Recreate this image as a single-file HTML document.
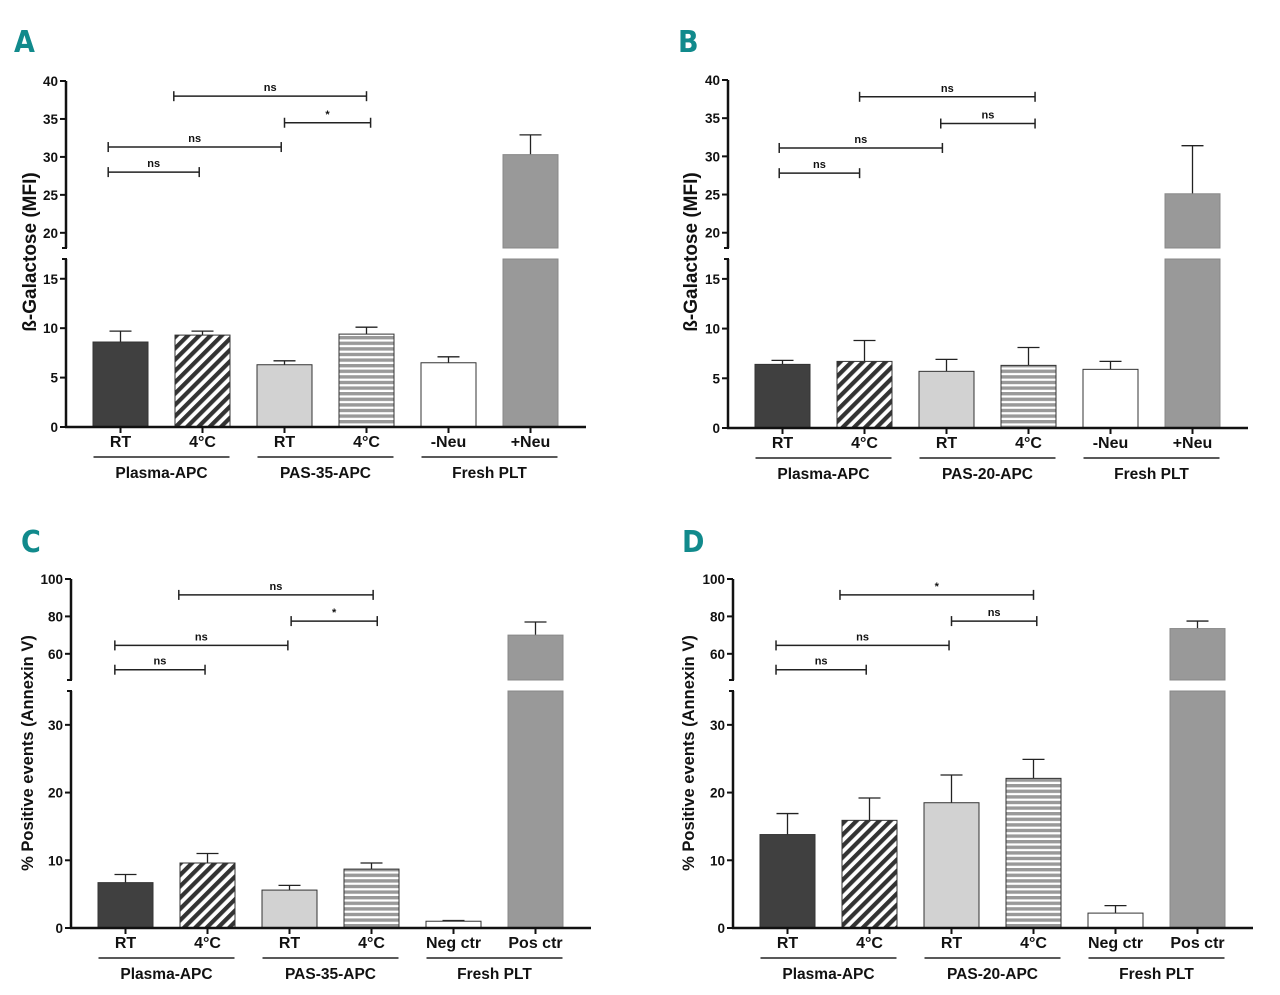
<!DOCTYPE html>
<html><head><meta charset="utf-8">
<style>
html,body{margin:0;padding:0;background:#fff;}
svg{display:block;}
text{font-family:"Liberation Sans",Arial,sans-serif;}
.lbl{font-weight:bold;fill:#111;}
.letter{font-family:"DejaVu Sans Condensed","Liberation Sans Narrow","Liberation Sans",sans-serif;font-weight:bold;fill:#118a8c;font-size:30px;}
</style></head>
<body>
<svg id="fig" width="1280" height="995" viewBox="0 0 1280 995" xmlns="http://www.w3.org/2000/svg">
<defs>
<pattern id="diag" patternUnits="userSpaceOnUse" width="8" height="8" patternTransform="rotate(45)">
<rect width="8" height="8" fill="#fff"/><rect width="4.2" height="8" fill="#333"/>
</pattern>
<pattern id="horiz" patternUnits="userSpaceOnUse" width="8" height="5.6">
<rect width="8" height="5.6" fill="#fff"/><rect width="8" height="3.4" fill="#999"/>
</pattern>
</defs>
<text class="letter" x="14" y="52">A</text>
<text class="letter" x="678" y="52">B</text>
<text class="letter" x="21" y="552">C</text>
<text class="letter" x="682" y="552">D</text>
</svg>
<script>
// ---- Panel data ----
const aCategories = ["RT","4°C","RT","4°C","-Neu","+Neu"];
const aValues = [8.6, 9.3, 6.3, 9.4, 6.5, 30.3];
const aErrors = [1.1, 0.4, 0.4, 0.7, 0.6, 2.6];
const aGroups = ["Plasma-APC","PAS-35-APC","Fresh PLT"];
const aLowTicks = [0,5,10,15];
const aHighTicks = [20,25,30,35,40];
// [from category pos, to category pos, value, label]
const aBrackets = [[-0.15,0.96,28,"ns"],[-0.15,1.96,31.3,"ns"],[2.0,3.05,34.5,"*"],[0.65,3.0,38,"ns"]];

const bCategories = ["RT","4°C","RT","4°C","-Neu","+Neu"];
const bValues = [6.4, 6.7, 5.7, 6.3, 5.9, 25.1];
const bErrors = [0.4, 2.1, 1.2, 1.8, 0.8, 6.3];
const bGroups = ["Plasma-APC","PAS-20-APC","Fresh PLT"];
const bLowTicks = [0,5,10,15];
const bHighTicks = [20,25,30,35,40];
const bBrackets = [[-0.04,0.94,27.8,"ns"],[-0.04,1.95,31.1,"ns"],[1.93,3.08,34.3,"ns"],[0.94,3.08,37.8,"ns"]];

const cCategories = ["RT","4°C","RT","4°C","Neg ctr","Pos ctr"];
const cValues = [6.7, 9.6, 5.6, 8.7, 1.0, 70];
const cErrors = [1.2, 1.4, 0.7, 0.9, 0.1, 7];
const cGroups = ["Plasma-APC","PAS-35-APC","Fresh PLT"];
const cLowTicks = [0,10,20,30];
const cHighTicks = [60,80,100];
const cBrackets = [[-0.13,0.97,51.5,"ns"],[-0.13,1.98,64.5,"ns"],[2.02,3.07,77.5,"*"],[0.65,3.02,91.5,"ns"]];

const dCategories = ["RT","4°C","RT","4°C","Neg ctr","Pos ctr"];
const dValues = [13.8, 15.9, 18.5, 22.1, 2.2, 73.5];
const dErrors = [3.1, 3.3, 4.1, 2.8, 1.1, 4];
const dGroups = ["Plasma-APC","PAS-20-APC","Fresh PLT"];
const dLowTicks = [0,10,20,30];
const dHighTicks = [60,80,100];
const dBrackets = [[-0.14,0.96,51.5,"ns"],[-0.14,1.97,64.5,"ns"],[2.0,3.04,77.5,"ns"],[0.64,3.0,91.5,"*"]];

const NS = "http://www.w3.org/2000/svg";
const svg = document.getElementById('fig');
function el(tag, attrs, parent, txt){
  const e = document.createElementNS(NS, tag);
  for (const k in attrs) e.setAttribute(k, attrs[k]);
  if (txt !== undefined) e.textContent = txt;
  (parent||svg).appendChild(e);
  return e;
}
const fills = ["#404040","url(#diag)","#d2d2d2","url(#horiz)","#ffffff","#999999"];

function panel(p){
  const g = el('g', {});
  
  
  function y(v){
    if (v <= p.lowMax) return p.y0 - v * (p.y0 - p.lowTopY) / p.lowMax;
    return p.highBotY - (v - p.highMin) * (p.highBotY - p.topY) / (p.highMax - p.highMin);
  }
  function x(i){ return p.x0 + 27 + i * 82 + 27.5; }
  p.values.forEach((v,i)=>{
    const cx = x(i), w = 55;
    const segs = [];
    if (v <= p.lowMax) segs.push([0, v]);
    else { segs.push([0, p.lowMax]); if (v > p.highMin) segs.push([p.highMin, v]); }
    const top = y(v);
    const ey = y(v + p.errors[i]);
    const e1 = el('line', {x1:cx, x2:cx, y1:top, y2:ey, stroke:'#222', 'stroke-width':1.3}, g);
    
    
    el('line', {x1:cx-11, x2:cx+11, y1:ey, y2:ey, stroke:'#222', 'stroke-width':1.3}, g);
    segs.forEach((s,k)=>{
      const yt = y(s[1]), yb = (k===0) ? p.y0 : y(s[0]);
      const r = el('rect', {x:cx-w/2, y:yt, width:w, height:Math.max(0,yb-yt), fill:fills[i], stroke: i===5 ? '#888' : '#333', 'stroke-width':1}, g);
      
      
    });
    el('line', {x1:cx, x2:cx, y1:p.y0, y2:p.y0+6, stroke:'#111', 'stroke-width':2}, g);
    const t = el('text', {x:cx, y:p.y0+20, 'text-anchor':'middle', 'font-size':16, class:'lbl'}, g, p.cats[i]);
    
    
  });
  p.groups.forEach((gname,k)=>{
    const xa = x(2*k) - 27, xb = x(2*k+1) + 27;
    el('line', {x1:xa, x2:xb, y1:p.y0+30, y2:p.y0+30, stroke:'#222', 'stroke-width':1.5}, g);
    const t = el('text', {x:(xa+xb)/2, y:p.y0+51, 'text-anchor':'middle', 'font-size':15.5, class:'lbl'}, g, gname);
    
    
  });
  const ax = p.x0;
  el('line', {x1:ax-1, x2:p.x0+520, y1:p.y0, y2:p.y0, stroke:'#111', 'stroke-width':2.5}, g);
  el('line', {x1:ax, x2:ax, y1:p.y0, y2:p.lowTopY, stroke:'#111', 'stroke-width':2.5}, g);
  el('line', {x1:ax, x2:ax, y1:p.highBotY, y2:p.topY, stroke:'#111', 'stroke-width':2.5}, g);
  el('line', {x1:ax-4, x2:ax+1, y1:p.lowTopY, y2:p.lowTopY, stroke:'#111', 'stroke-width':2}, g);
  el('line', {x1:ax-4, x2:ax+1, y1:p.highBotY, y2:p.highBotY, stroke:'#111', 'stroke-width':2}, g);
  p.lowTicks.concat(p.highTicks).forEach(v=>{
    const yy = y(v);
    el('line', {x1:ax-6, x2:ax, y1:yy, y2:yy, stroke:'#111', 'stroke-width':2}, g);
    const t = el('text', {x:ax-8, y:yy+5, 'text-anchor':'end', 'font-size':13.5, class:'lbl'}, g, String(v));
    
    
  });
  const yt = el('text', {x:0, y:0, 'text-anchor':'middle', 'font-size':p.titleSize, class:'lbl', transform:`translate(${p.titleX},${p.titleY}) rotate(-90)`}, g, p.title);
  
  
  p.brackets.forEach(b=>{
    const xa = x(b[0]), xb = x(b[1]), yy = y(b[2]);
    const l = el('line', {x1:xa, x2:xb, y1:yy, y2:yy, stroke:'#222', 'stroke-width':1.5}, g);
    
    
    el('line', {x1:xa, x2:xa, y1:yy-5, y2:yy+5, stroke:'#222', 'stroke-width':1.5}, g);
    el('line', {x1:xb, x2:xb, y1:yy-5, y2:yy+5, stroke:'#222', 'stroke-width':1.5}, g);
    el('text', {x:(xa+xb)/2, y:yy-5, 'text-anchor':'middle', 'font-size':11, class:'lbl'}, g, b[3]);
  });
}

panel({name:'panel-a-chart', key:'a', x0:66, y0:427, lowMax:17, lowTopY:259, highMin:18, highMax:40, highBotY:248, topY:81,
  values:aValues, errors:aErrors, cats:aCategories, groups:aGroups, lowTicks:aLowTicks, highTicks:aHighTicks, brackets:aBrackets,
  title:'ß-Galactose (MFI)', titleX:36, titleY:252, titleSize:19});
panel({name:'panel-b-chart', key:'b', x0:728, y0:428, lowMax:17, lowTopY:259, highMin:18, highMax:40, highBotY:248, topY:80,
  values:bValues, errors:bErrors, cats:bCategories, groups:bGroups, lowTicks:bLowTicks, highTicks:bHighTicks, brackets:bBrackets,
  title:'ß-Galactose (MFI)', titleX:697, titleY:252, titleSize:19});
panel({name:'panel-c-chart', key:'c', x0:71, y0:928, lowMax:35, lowTopY:691, highMin:46, highMax:100, highBotY:680, topY:579,
  values:cValues, errors:cErrors, cats:cCategories, groups:cGroups, lowTicks:cLowTicks, highTicks:cHighTicks, brackets:cBrackets,
  title:'% Positive events (Annexin V)', titleX:33, titleY:753, titleSize:16.5});
panel({name:'panel-d-chart', key:'d', x0:733, y0:928, lowMax:35, lowTopY:691, highMin:46, highMax:100, highBotY:680, topY:579,
  values:dValues, errors:dErrors, cats:dCategories, groups:dGroups, lowTicks:dLowTicks, highTicks:dHighTicks, brackets:dBrackets,
  title:'% Positive events (Annexin V)', titleX:694, titleY:753, titleSize:16.5});
</script>
</body></html>
